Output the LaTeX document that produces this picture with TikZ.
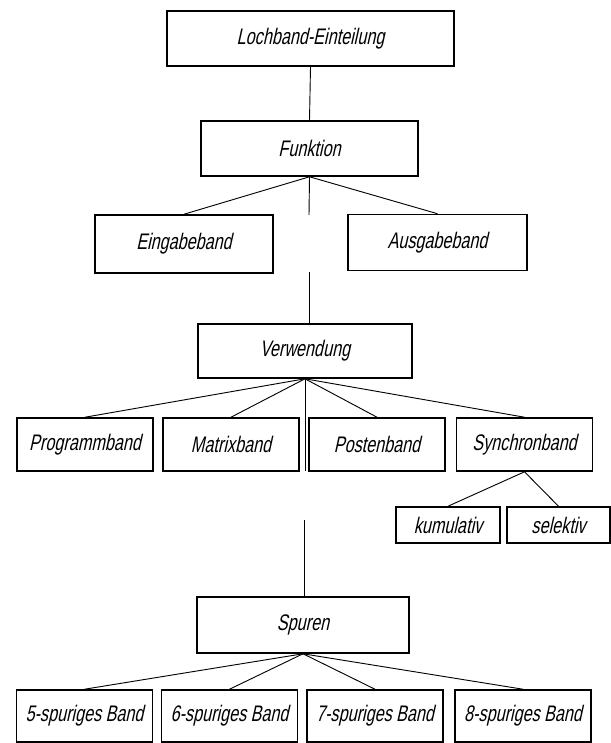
\documentclass[tikz,border=0pt]{standalone}
\usepackage{fontspec}
\setmainfont{Liberation Sans}[FakeSlant=0.22, FakeStretch=0.72]
\usepackage{tikz}

\begin{document}
\begin{tikzpicture}[x=0.025cm, y=-0.025cm,
    box/.style={draw, line width=1.1pt, inner sep=0pt, font=\fontsize{16}{19}\selectfont},
    bandbox/.style={box, minimum width=3.4cm, minimum height=1.325cm},
    link/.style={line width=0.65pt}]
    \useasboundingbox (0,0) rectangle (611,743);

    % Lochband-Einteilung box
    \node[box, minimum width=7.175cm, minimum height=1.375cm] (loch) at (310.5,38.5) {Lochband-Einteilung};

    % Funktion box
    \node[box, minimum width=5.425cm, minimum height=1.375cm] (funk) at (309.5,148.5) {Funktion};
    \draw[link] (loch.south) -- (funk.north);

    % Eingabe / Ausgabe
    \node[box, minimum width=4.45cm, minimum height=1.45cm] (ein) at (184,244) {Eingabeband};
    \node[box, minimum width=4.475cm, minimum height=1.4cm] (aus) at (437.5,242.5) {Ausgabeband};
    \draw[link] (funk.south) -- (ein.north);
    \draw[link] (funk.south) -- (aus.north);
    \coordinate (fgap) at (309,215);
    \draw[link] (funk.south) -- (fgap);

    % Verwendung box
    \node[box, minimum width=5.35cm, minimum height=1.35cm] (verw) at (305,351) {Verwendung};
    \coordinate (vtop) at (309,272);
    \draw[link] (vtop) -- (vtop |- verw.north);

    % Verwendung row
    \node[bandbox] (prog) at (85,444.5) {Programmband};
    \node[bandbox] (matr) at (231,444.5) {Matrixband};
    \node[bandbox] (post) at (377,444.5) {Postenband};
    \node[bandbox] (sync) at (524.5,444.5) {Synchronband};
    \draw[link] (verw.south) -- (prog.north);
    \draw[link] (verw.south) -- (matr.north);
    \draw[link] (verw.south) -- (post.north);
    \draw[link] (verw.south) -- (sync.north);
    \coordinate (vbot) at (305,471);
    \draw[link] (verw.south) -- (vbot);

    % Synchronband split
    \node[box, minimum width=2.6cm, minimum height=0.9cm] (kum) at (448,525) {kumulativ};
    \node[box, minimum width=2.575cm, minimum height=0.9cm] (sel) at (558.5,525) {selektiv};
    \draw[link] (sync.south) -- (kum.north);
    \draw[link] (sync.south) -- (sel.north);

    % Spuren box
    \node[box, minimum width=5.3cm, minimum height=1.4cm] (spur) at (303,625) {Spuren};
    \coordinate (stop) at (304,520);
    \draw[link] (stop) -- (stop |- spur.north);

    % Spuren row
    \node[bandbox, minimum height=1.3cm] (sp5) at (84.5,716) {5-spuriges Band};
    \node[bandbox, minimum height=1.3cm] (sp6) at (229.5,716) {6-spuriges Band};
    \node[bandbox, minimum height=1.3cm] (sp7) at (375,716) {7-spuriges Band};
    \node[bandbox, minimum height=1.3cm] (sp8) at (523,716) {8-spuriges Band};
    \draw[link] (spur.south) -- (sp5.north);
    \draw[link] (spur.south) -- (sp6.north);
    \draw[link] (spur.south) -- (sp7.north);
    \draw[link] (spur.south) -- (sp8.north);
\end{tikzpicture}
\end{document}
